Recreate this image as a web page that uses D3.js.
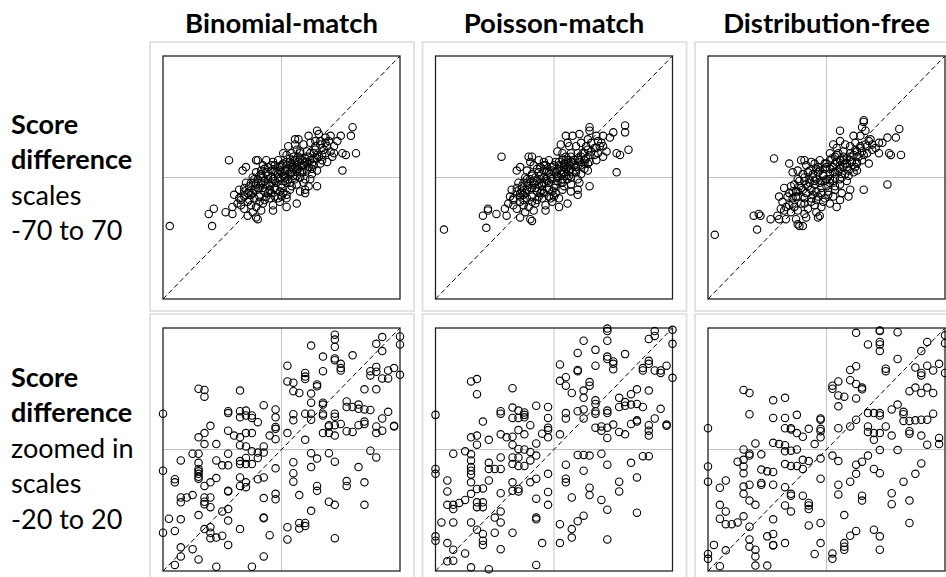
<!DOCTYPE html>
<html lang="en">
<head>
    <meta charset="utf-8">
    <title>Score difference scatter</title>
    <script type="text/javascript" src="https://d3js.org/d3.v7.min.js"></script>
    <style>
        body { margin: 0; background: white; }
        text { font-family: Lato, "Open Sans", sans-serif; fill: black; }
        .head { font-weight: bold; font-size: 27.5px; }
        .rowlab { font-size: 27px; }
        .rowlab.b { font-weight: bold; }
    </style>
</head>
<body>
<div id="chart"></div>
<script type="text/javascript">
    const width = 946;
    const height = 577;

    const methods = ["Binomial-match", "Poisson-match", "Distribution-free"];
    const scaleLimits = [70, 20];
    const rowLabels = [
        [["Score", true], ["difference", true], ["scales", false], ["-70 to 70", false]],
        [["Score", true], ["difference", true], ["zoomed in", false], ["scales", false], ["-20 to 20", false]]
    ];

    // full scale, -70 to 70
    const fullBinomial = [
        [21,27],[22,25],[42,29],[41,24],[35,24],[29,24],[16,24],[8,22],[10,22],[23,21],[26,23],[33,21],
        [4,18],[8,19],[9,16],[13,19],[17,20],[20,18],[23,19],[25,16],[29,15],[31,18],[31,14],
        [1,14],[3,13],[6,14],[11,14],[15,15],[19,14],[22,12],[26,14],[36,14],[38,13],[44,14],[11,15],
        [-14,10],[-15,10],[-9,10],[-5,9],[-2,10],[1,8],[5,9],[8,10],[11,11],[14,9],[17,10],[21,11],[24,10],[27,9],[30,12],
        [-8,6],[-4,7],[-1,6],[3,7],[6,6],[9,7],[13,7],[16,6],[19,7],[23,8],[-11,7],[-12,4],[-21,6],[-23,4],[-31,10],
        [-15,3],[-12,2],[-9,3],[-6,4],[-3,3],[0,3],[3,4],[6,3],[9,4],[12,3],[15,4],[18,2],[21,4],
        [-17,0],[-14,-1],[-11,0],[-8,1],[-5,-1],[-2,0],[1,1],[4,-1],[7,1],[11,0],[14,-1],[17,-1],[36,4],
        [-21,-3],[-18,-3],[-15,-4],[-12,-3],[-9,-4],[-6,-3],[-3,-3],[0,-4],[3,-3],[6,-5],[9,-4],[13,-3],[16,-5],
        [-25,-7],[-22,-6],[-19,-8],[-16,-7],[-13,-6],[-10,-8],[-7,-7],[-4,-6],[-1,-8],[5,-7],[11,-8],[14,-7],[21,-5],
        [-28,-10],[-25,-12],[-22,-11],[-19,-13],[-16,-12],[-13,-11],[-10,-13],[-7,-12],[-4,-11],[0,-11],[3,-12],[9,-15],[14,-9],[3,-10],
        [-29,-17],[-24,-16],[-18,-16],[-15,-17],[-11,-15],[-5,-16],[-1,-14],
        [-33,-20],[-29,-21],[-20,-22],[-17,-20],[-12,-19],[-5,-19],[-14,-24],[-15,-23],[-22,-18],[3,-17],
        [-66,-28],[-41,-28],[-43,-21],[-40,-18],
        [-10,-2],[-6,0],[-2,2],[2,4],[6,8],[10,12],[-14,-6],[-18,-10],[-8,-9],[0,-6],[4,2],[8,6],[12,10],[16,12],[20,16],
        [-4,4],[-12,-4],[-16,-1],[0,7],[5,11],[13,4],[18,8],[24,13],[27,18],[-20,-14],[-22,-8],[-7,-4],[2,-2],[9,1],[15,9],
        [-19,-5],[-17,-9],[-13,-14],[-9,-11],[-6,-9],[-3,-7],[-2,-12],[1,-9],[-11,-6],[-8,-1],[-4,-2],[-1,-1],[2,0],[5,2],
        [7,5],[10,5],[12,7],[14,11],[17,14],[19,11],[21,13],[24,17],[26,20],[18,5],[10,9],[7,12],[3,9],[-1,4],[-6,7],
        [-10,5],[-13,1],[-16,-3],[-20,-9],[-24,-13],[-26,-15],[20,21],[28,21],[11,3],[8,-1],[5,-3]
    ];

    const fullPoisson = [
        [21,29],[21,27],[42,30],[42,26],[35,26],[29,24],[33,23],[15,25],[11,24],[7,24],[25,24],
        [4,19],[8,20],[9,18],[13,18],[16,20],[19,18],[22,20],[25,17],[29,18],[31,15],[2,15],[5,14],[10,14],[14,14],
        [18,14],[22,15],[26,14],[37,14],[39,13],[44,16],
        [-31,12],[-15,12],[-13,12],[-14,9],[-9,10],[-6,9],[-3,10],[1,9],[5,10],[8,10],[11,9],[15,10],[18,10],[21,9],[25,10],[29,12],
        [-8,6],[-5,7],[-1,6],[3,7],[6,6],[9,7],[13,6],[16,7],[20,8],[-12,7],
        [-22,4],[-20,6],[-16,4],[-13,2],[-9,3],[-6,4],[-3,3],[1,3],[4,4],[6,3],[9,4],[13,3],[16,2],[20,4],[37,3],
        [-17,0],[-14,-1],[-11,0],[-8,1],[-5,-1],[-2,0],[2,1],[5,-1],[7,1],[10,0],[14,-1],
        [-21,-3],[-18,-3],[-15,-4],[-12,-3],[-9,-4],[-6,-3],[-3,-3],[1,-4],[4,-3],[6,-5],[10,-4],[15,-3],[21,-5],
        [-25,-7],[-22,-6],[-19,-8],[-16,-7],[-13,-6],[-10,-8],[-7,-7],[-4,-6],[-1,-8],[5,-7],[10,-8],[14,-7],
        [-26,-11],[-24,-12],[-20,-11],[-18,-13],[-16,-12],[-13,-11],[-10,-13],[-7,-12],[-3,-11],[0,-11],[3,-12],[8,-15],[14,-10],
        [-29,-18],[-24,-16],[-18,-16],[-15,-17],[-11,-15],[-5,-16],[-1,-14],
        [-34,-21],[-28,-22],[-20,-23],[-17,-20],[-12,-19],[-5,-19],[-14,-24],[-13,-25],[-22,-18],[3,-17],
        [-65,-30],[-40,-29],[-42,-22],[-39,-19],[-39,-18],
        [-10,-2],[-6,0],[-2,2],[2,4],[6,8],[10,12],[-14,-6],[-18,-10],[-8,-9],[0,-6],[4,2],[8,6],[12,10],[16,12],[20,16],
        [-4,4],[-12,-4],[-16,-1],[0,7],[5,11],[13,4],[18,8],[24,13],[27,18],[-20,-14],[-22,-8],[-7,-4],[2,-2],[9,1],[15,9],
        [-19,-5],[-17,-9],[-13,-14],[-9,-11],[-6,-9],[-3,-7],[-2,-12],[1,-9],[-11,-6],[-8,-1],[-4,-2],[-1,-1],[2,0],[5,2],
        [7,5],[10,5],[12,7],[14,11],[17,14],[19,11],[21,13],[24,17],[26,21],[18,5],[10,9],[7,12],[3,9],[-1,4],[-6,7],
        [-10,5],[-13,1],[-16,-3],[-20,-9],[-24,-13],[-27,-15],[20,22],[28,20],[11,3],[8,-1],[5,-3]
    ];

    const fullFree = [
        [22,33],[22,32],[21,29],[8,27],[16,24],[43,28],[23,27],[41,23],[36,23],[33,20],[31,20],[29,17],[25,21],[20,24],
        [4,19],[6,17],[11,19],[8,21],[14,18],[17,20],[20,17],[23,19],[27,16],[31,14],[37,14],[38,13],[44,13],
        [2,14],[6,13],[10,15],[14,14],[18,15],[22,13],
        [-31,11],[-22,8],[-15,10],[-13,10],[-9,9],[-7,8],[-4,10],[-1,8],[2,10],[5,8],[8,10],[11,8],[14,10],[18,8],[21,10],[25,8],
        [-12,7],[-5,6],[0,6],[4,6],[8,5],[12,6],[17,6],
        [-20,3],[-17,4],[-14,2],[-11,3],[-8,2],[-5,3],[-2,1],[2,2],[5,0],[9,2],[13,1],[16,3],
        [-17,-1],[-13,-2],[-10,-1],[-7,-2],[-3,-2],[0,-1],[4,-2],[8,-1],[12,-2],[36,-4],[22,-7],
        [-25,-6],[-21,-5],[-18,-8],[-15,-6],[-12,-9],[-9,-7],[-6,-8],[-3,-6],[1,-8],[5,-7],[9,-9],[14,-7],[13,-11],
        [-28,-11],[-23,-11],[-20,-12],[-17,-11],[-13,-12],[-9,-12],[-5,-11],[-1,-12],[4,-11],[8,-13],
        [-26,-14],[-22,-16],[-19,-17],[-15,-15],[-11,-18],[-7,-16],[-3,-17],[2,-15],[6,-17],
        [-25,-19],[-21,-20],[-17,-19],[-13,-21],[-6,-20],[-4,-22],[-33,-24],[-29,-22],[-28,-24],[-24,-24],
        [-18,-24],[-16,-28],[-14,-28],[-5,-23],[-17,-27],[-12,-23],
        [-66,-33],[-41,-30],[-43,-22],[-40,-21],[-39,-22],
        [-10,-3],[-6,-1],[-2,2],[2,5],[6,9],[10,12],[-14,-7],[-18,-11],[-8,-10],[0,-5],[4,3],[8,7],[12,11],[16,13],[20,18],
        [-4,4],[-12,-4],[-16,-2],[0,8],[5,12],[13,4],[18,9],[24,14],[27,19],[-20,-15],[-22,-9],[-7,-4],[2,-3],[9,0],[15,9],
        [-19,-4],[-17,-8],[-13,-15],[-9,-14],[-6,-13],[-3,-9],[-2,-14],[1,-10],[-11,-5],[-8,0],[-4,-3],[-1,-2],[2,-1],[5,3],
        [7,4],[10,6],[12,8],[14,12],[17,16],[19,12],[21,15],[24,18],[26,22],[18,4],[10,10],[7,14],[3,11],[-1,5],[-6,5],
        [-10,4],[-13,0],[-16,-5],[-20,-8],[-24,-17],[-27,-18],[11,2],[8,-4],[5,-5]
    ];

    // zoomed in, -20 to 20
    const zoomBinomial = [
        [9,18.9],[9,18.1],[9,16.9],[5,17.1],[17,18.5],[20,18.6],[20,17.3],[16,17.4],[17,16.2],[7,15.3],[12,15.5],
        [9,15.0],[9,14.7],[10,14.1],[10,13.4],[10,13.0],[1,13.8],[4,12.6],[4,12.0],[4,11.6],[7,12.9],[15,12.9],
        [16,13.6],[15,12.2],[16,12.8],[17,11.7],[18,11.7],[18,13.0],[19,13.4],[20,12.3],[1,11.2],[2,11.0],[2,9.6],
        [3,9.3],[6,10.7],[6,10.4],[5,9.2],[14,9.9],[16,9.9],[1,2.7],[2,5.8],[2,4.8],[4,5.9],[5,5.9],[5,4.9],[5,7.7],
        [7,7.7],[7,7.4],[7,5.9],[7,5.6],[9,5.9],[9,5.4],[8,4.0],[8,3.8],[9,4.0],[7,2.7],[8,2.7],[9,2.3],[4,1.6],
        [10,4.2],[11,7.9],[11,7.0],[12,7.0],[13,7.4],[13,6.7],[14,6.6],[15,6.5],[11,3.0],[12,2.9],[13,4.0],[14,4.6],
        [14,4.2],[16,3.8],[16,2.7],[17,3.1],[17,5.1],[18,6.2],[19,3.9],[19,3.8],
        [15,-0.2],[16,-1.3],[5,-0.6],[6,-1.5],[5,-2.9],[8,-0.6],[9,-2.0],[2,-2.1],[2,-3.9],[2,-5.3],[6,-6.0],[6,-6.8],
        [3,-7.5],[11,-5.2],[11,-6.0],[13,-2.9],[14,-5.4],[8,-8.6],[9,-9.1],[14,-9.1],[5,-10.1],[3,-12.1],[3,-13.0],
        [4,-12.1],[4,-12.6],[1,-12.8],[1,-14.8],[9,-14.6],
        [-20,5.9],[-20,-3.5],[-20,-13.7],[-14,10.0],[-13,9.8],[-13,8.7],[-7,9.7],[-9,6.3],[-9,6.0],[-7,6.3],[-7,5.3],
        [-6,6.4],[-5,5.6],[-5,5.2],[-4,4.5],[-6,5.6],[-3,7.3],[-1,6.6],[-1,5.3],[-1,3.7],[-1,3.4],[-1,1.7],[-2,2.3],
        [-12,3.9],[-13,2.7],[-14,2.0],[-13,0.9],[-11,0.9],[-9,3.1],[-8,2.3],[-7,2.0],[-6,2.7],[-5,2.7],[-7,0.7],[-6,0.5],
        [-5,-0.3],[-4,-0.5],[-3,-0.5],[-3,0.5],[-4,-1.4],[-6,-1.4],[-6,-2.4],[-7,-1.9],[-7,-2.4],[-5,-2.4],
        [-15,-0.7],[-14,-0.7],[-14,-2.2],[-17,-1.8],[-11,-1.8],[-10,-2.6],[-9,-2.6],[-9,-0.7],
        [-14,-3.2],[-14,-3.6],[-14,-4.0],[-14,-4.5],[-14,-4.8],[-12,-5.4],[-13,-6.0],[-11,-4.7],
        [-18,-4.9],[-18,-5.4],[-17,-7.9],[-17,-8.7],[-16,-7.9],[-15,-7.5],[-13,-7.9],[-13,-8.6],[-13,-9.0],[-12,-7.9],[-12,-9.5],
        [-9,-6.8],[-9,-6.9],[-7,-4.6],[-7,-6.0],[-6,-5.4],[-6,-6.2],[-4,-4.9],[-3,-4.6],[-1,-3.1],[-3,-8.0],[-1,-7.3],[-1,-8.2],
        [-10,-10.2],[-9,-9.8],[-14,-10.8],[-9,-11.7],[-7,-13.1],[-11,-14.5],[-9,-15.7],[-13,-13.1],[-12,-12.8],[-12,-13.7],[-12,-14.6],
        [-19,-11.4],[-17,-11.5],[-18,-13.4],[-3,-11.2],[-3,-11.3],[-2,-14.1],[-3,-17.6],
        [-17,-16.1],[-17,-17.6],[-18,-19.0],[-15,-16.4],[-14,-18.1],[-11,-19.3],[-5,-19.3],[-10,-14.2]
    ];

    const zoomPoisson = [
        [9,19.9],[9,19.5],[5,17.9],[9,17.9],[7,16.4],[12,15.7],[9,15.3],[9,14.9],[10,14.5],[10,14.1],[10,13.2],[4,15.9],
        [7,13.8],[1,14.0],[4,13.1],[4,12.9],[17,19.5],[16,18.2],[17,18.7],[20,19.7],[20,17.4],[16,14.6],[16,14.1],
        [15,13.4],[15,13.0],[17,13.0],[18,13.0],[18,12.6],[19,13.8],[20,11.8],[1,11.3],[2,11.9],[2,10.5],[3,9.3],
        [5,9.7],[5,8.5],[6,11.1],[6,10.5],[14,9.9],[13,9.1],[16,9.7],[7,8.1],[7,7.5],[11,8.5],[11,7.0],[12,7.8],[12,7.2],
        [13,7.4],[14,7.5],[15,7.0],[2,6.0],[2,5.1],[4,6.3],[5,6.6],[5,5.1],[7,6.3],[7,5.9],[9,6.4],[9,6.0],
        [7,3.6],[8,3.8],[8,3.1],[9,3.6],[10,4.1],[9,1.9],[11,2.9],[12,2.5],[13,4.2],[14,4.6],[14,4.8],
        [16,4.0],[16,3.1],[16,2.3],[17,5.1],[18,6.7],[19,4.1],[19,3.9],[1,2.5],
        [4,-0.9],[5,-0.9],[6,-1.0],[8,-0.7],[9,-2.5],[5,-3.5],[2,-2.5],[2,-4.8],[2,-5.4],[6,-6.3],[6,-7.5],[3,-7.9],
        [8,-8.3],[11,-5.3],[11,-6.9],[13,-2.2],[14,-4.6],[15,-1.1],[16,-1.1],[9,-9.9],[14,-10.4],[5,-10.9],[4,-11.8],
        [3,-13.1],[3,-14.5],[1,-12.3],[1,-15.4],[9,-14.8],
        [-20,5.7],[-20,-3.2],[-20,-4.0],[-20,-14.3],[-20,-15.0],[-14,11.2],[-13,11.6],[-13,9.1],[-7,10.1],[-9,6.3],[-9,5.9],
        [-7,6.9],[-6,6.4],[-5,6.1],[-5,5.7],[-5,5.3],[-7,5.2],[-6,5.2],[-3,7.2],[-1,7.0],[-1,5.2],[-1,3.6],[-1,3.2],[-1,2.0],
        [-2,2.6],[-4,4.0],[-12,4.6],[-14,2.0],[-13,2.3],[-13,0.8],[-11,1.6],[-9,2.5],[-8,2.0],[-7,2.1],[-6,3.2],[-5,2.5],
        [-7,0.8],[-6,0.1],[-5,0.0],[-4,-0.4],[-3,-1.0],[-3,1.0],
        [-17,-0.7],[-15,-0.3],[-14,-0.8],[-14,-1.8],[-14,-2.9],[-14,-3.5],[-14,-4.1],[-14,-5.4],
        [-11,-2.2],[-11,-3.2],[-10,-3.2],[-9,-3.2],[-9,-1.3],[-7,-1.3],[-6,-1.3],[-7,-2.4],[-6,-2.7],[-5,-2.7],[-4,-1.8],
        [-11,-5.1],[-18,-5.1],[-18,-6.9],[-18,-9.1],[-17,-9.1],[-17,-9.8],[-16,-8.8],[-15,-8.3],[-14,-7.3],[-13,-6.5],
        [-12,-6.4],[-13,-8.7],[-13,-9.5],[-12,-8.7],[-12,-9.5],[-9,-7.2],[-7,-5.4],[-7,-6.8],[-6,-6.9],[-6,-6.5],
        [-4,-5.4],[-3,-4.8],[-1,-4.0],[-3,-8.1],[-1,-7.0],[-1,-9.1],[-19,-12.0],[-17,-12.0],[-14,-12.0],
        [-10,-11.2],[-9,-10.2],[-9,-12.0],[-13,-13.2],[-12,-13.9],[-12,-15.0],[-12,-15.7],[-10,-13.7],[-7,-13.7],
        [-3,-11.2],[-3,-11.5],[-2,-15.4],[-9,-16.4],[-17,-16.5],[-18,-15.4],[-18,-18.4],[-17,-18.3],[-15,-17.1],
        [-14,-19.4],[-11,-19.7],[-3,-19.0]
    ];

    const zoomFree = [
        [5,19.2],[9,19.6],[9,19.5],[12,19.3],[7,17.3],[9,17.7],[9,17.3],[9,16.2],[12,14.9],[17,17.7],[16,16.2],[20,18.8],
        [20,17.5],[10,13.3],[10,12.9],[5,13.7],[4,13.1],[2,11.2],[1,10.5],[1,10.0],[4,11.4],[5,10.8],[6,10.2],[6,9.9],
        [2,8.9],[3,8.7],[5,8.4],[2,7.1],[15,13.5],[16,12.6],[16,12.2],[17,13.8],[18,13.0],[19,14.1],[20,12.6],
        [14,9.6],[15,10.2],[16,9.3],[17,10.2],[18,9.3],[12,7.4],[11,6.6],[7,6.0],[8,6.0],[9,6.0],[9,5.6],[13,6.2],[13,5.8],
        [13,4.7],[14,4.7],[15,4.8],[16,4.9],[17,4.9],[18,5.9],[5,4.9],[4,3.8],[7,3.8],[7,2.9],[8,2.7],[9,2.7],[10,3.8],
        [11,2.3],[8,1.6],[14,3.0],[14,2.6],[16,2.3],[17,0.8],[19,1.9],[19,0.9],[12,-0.1],[9,-0.1],[2,3.5],
        [1,-1.0],[2,-1.9],[5,-2.5],[6,-2.0],[7,-1.0],[8,-3.2],[9,-3.9],[5,-4.0],[2,-5.8],[2,-7.4],[4,-5.3],[6,-7.6],
        [6,-8.4],[3,-10.8],[11,-7.2],[11,-9.0],[13,-5.3],[14,-8.4],[15,-4.0],[16,-2.3],[14,-12.1],[5,-13.4],[4,-14.2],
        [8,-13.2],[9,-14.3],[9,-16.5],[3,-15.4],[3,-16.0],[3,-16.5],[1,-17.1],[1,-18.0],
        [-20,3.5],[-20,-2.8],[-20,-5.3],[-20,-17.2],[-20,-18.0],[-14,9.8],[-13,9.3],[-9,8.1],[-7,8.5],[-13,5.8],
        [-9,5.2],[-7,5.2],[-5,5.7],[-7,3.5],[-6,3.3],[-6,3.5],[-5,2.7],[-4,2.1],[-3,3.4],
        [-1,5.1],[-1,4.9],[-1,3.4],[-1,3.0],[-1,2.0],[-2,0.9],[-9,1.1],[-8,0.9],[-7,0.7],[-7,-0.3],[-6,-0.2],[-5,0.0],
        [-12,1.0],[-14,0.0],[-13,-0.7],[-13,-1.0],[-11,-0.8],[-15,-2.0],[-14,-1.7],[-14,-2.8],[-14,-3.9],
        [-11,-3.3],[-10,-3.6],[-9,-3.7],[-9,-5.8],[-11,-5.5],[-11,-5.8],[-7,-2.4],[-6,-2.7],[-5,-2.7],[-4,-1.7],
        [-3,-1.9],[-4,-3.2],[-1,-1.5],[-1,-4.8],[-17,-5.1],[-18,-6.3],[-13,-5.8],[-14,-6.1],[-14,-7.3],[-13,-8.4],
        [-12,-9.1],[-18,-9.1],[-17,-10.2],[-18,-11.4],[-17,-12.3],[-16,-12.3],[-15,-12.0],[-14,-11.0],[-13,-12.7],
        [-9,-11.5],[-7,-6.2],[-6,-7.6],[-6,-7.3],[-7,-9.2],[-6,-10.2],[-4,-7.6],[-3,-8.8],[-3,-9.2],[-3,-9.8],
        [-3,-12.5],[-1,-12.1],[-13,-14.8],[-13,-16.0],[-12,-16.5],[-12,-17.6],[-10,-14.3],[-9,-13.9],[-9,-15.7],
        [-9,-15.8],[-7,-15.4],[-2,-17.2],[-1,-15.4],[-19,-15.7],[-17,-16.6],[-18,-19.2],[-12,-19.1],[-10,-19.1]
    ];

    const panelData = [
        [fullBinomial, fullPoisson, fullFree],
        [zoomBinomial, zoomPoisson, zoomFree]
    ];

    const box = { left: 163, top: [56, 328], w: 237, h: 243, step: 272.5 };
    const frame = { left: 150, top: [42, 314], w: 264, h: [269, 280] };

    const svg = d3.select("#chart")
        .append("svg")
        .attr("width", width)
        .attr("height", height);

    // column headers
    svg.append("g")
        .selectAll("text")
        .data(methods)
        .enter()
        .append("text")
        .attr("class", "head")
        .attr("x", (d, i) => box.left + i * box.step + box.w / 2)
        .attr("y", 33)
        .attr("text-anchor", "middle")
        .text(d => d);

    // row labels
    const rowBase = [134, 387];
    rowLabels.forEach((lines, r) => {
        svg.append("g")
            .selectAll("text")
            .data(lines)
            .enter()
            .append("text")
            .attr("class", d => d[1] ? "rowlab b" : "rowlab")
            .attr("x", 11)
            .attr("y", (d, i) => rowBase[r] + i * 35.4)
            .text(d => d[0]);
    });

    panelData.forEach((row, r) => {
        const lim = scaleLimits[r];
        row.forEach((data, c) => {
            const left = box.left + c * box.step;
            const top = box.top[r];
            const x = d3.scaleLinear().domain([-lim, lim]).range([left, left + box.w]);
            const y = d3.scaleLinear().domain([-lim, lim]).range([top + box.h, top]);

            const g = svg.append("g");

            // light outer frame
            g.append("rect")
                .attr("x", frame.left + c * box.step)
                .attr("y", frame.top[r])
                .attr("width", frame.w)
                .attr("height", frame.h[r])
                .attr("fill", "none")
                .attr("stroke", "#e3e3e3")
                .attr("stroke-width", 2);

            // zero lines
            g.append("line")
                .attr("x1", x(0)).attr("x2", x(0))
                .attr("y1", y(-lim)).attr("y2", y(lim))
                .attr("stroke", "#c4c4c4").attr("stroke-width", 1);
            g.append("line")
                .attr("x1", x(-lim)).attr("x2", x(lim))
                .attr("y1", y(0)).attr("y2", y(0))
                .attr("stroke", "#c4c4c4").attr("stroke-width", 1);

            // diagonal y = x
            g.append("line")
                .attr("x1", x(-lim)).attr("y1", y(-lim))
                .attr("x2", x(lim)).attr("y2", y(lim))
                .attr("stroke", "black")
                .attr("stroke-width", 1)
                .attr("stroke-dasharray", "5,3");

            // axis box
            g.append("rect")
                .attr("x", x(-lim))
                .attr("y", y(lim))
                .attr("width", x(lim) - x(-lim))
                .attr("height", y(-lim) - y(lim))
                .attr("fill", "none")
                .attr("stroke", "#222")
                .attr("stroke-width", 1.3);

            g.append("g")
                .selectAll("circle")
                .data(data)
                .enter()
                .append("circle")
                .attr("cx", d => x(d[0]))
                .attr("cy", d => y(d[1]))
                .attr("r", 3.7)
                .attr("fill", "none")
                .attr("stroke", "black")
                .attr("stroke-width", 1.1);
        });
    });
</script>
</body>
</html>
